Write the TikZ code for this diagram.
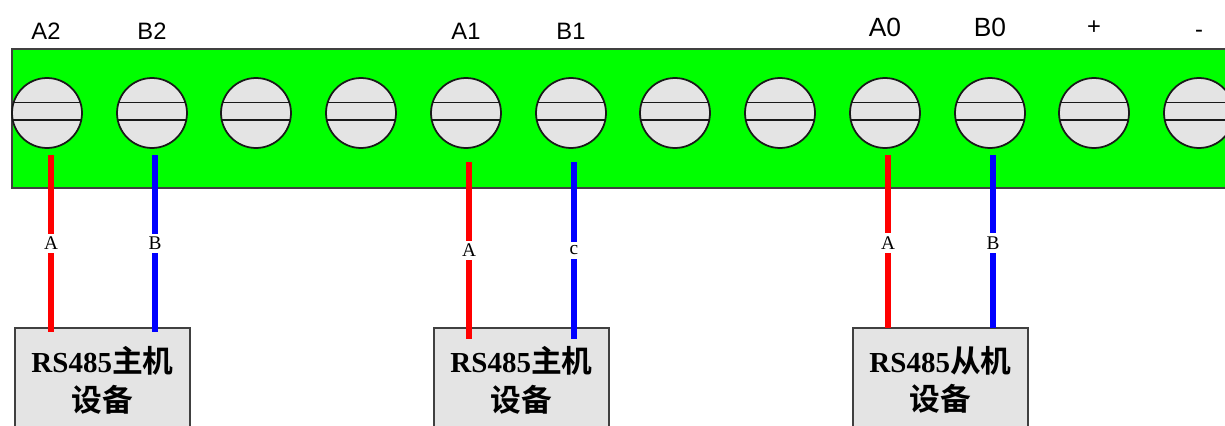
\documentclass[tikz,border=0pt]{standalone}
\usepackage{fontspec}
\setmainfont{Liberation Serif}
\newfontfamily\arialfont{Liberation Sans}
\newfontfamily\cjk[BoldFont={Noto Sans CJK SC Bold}]{Noto Sans CJK SC}
\newcommand{\cjkbig}[1]{{\cjk\bfseries\fontsize{17.5pt}{22pt}\selectfont #1}}
\definecolor{screwgray}{HTML}{E4E4E4}
\definecolor{edgegray}{HTML}{404040}
\tikzset{
  screwnode/.style={circle, draw=black!90, line width=1pt, fill=screwgray, minimum size=1.4cm, inner sep=0pt},
  slotline/.style={draw=black!90, line width=1pt},
  toplabel/.style={font=\arialfont\fontsize{13.5pt}{15pt}\selectfont, text=black},
  biglabel/.style={font=\arialfont\fontsize{15pt}{17pt}\selectfont, text=black},
  devicebox/.style={draw=edgegray, line width=1.1pt, fill=screwgray, minimum width=3.5cm, minimum height=2.08cm, inner sep=0pt, align=center, font=\fontsize{16.5pt}{22pt}\selectfont},
  redwire/.style={draw=red, line width=3.2pt},
  bluewire/.style={draw=blue, line width=3.2pt},
  wirelabel/.style={fill=white, inner xsep=1pt, inner ysep=2pt, text=black, font=\fontsize{11pt}{12pt}\selectfont},
}
\begin{document}
\begin{tikzpicture}[x=0.02cm,y=-0.02cm]
		\useasboundingbox (0,0) rectangle (1225,426);
		\clip (0,0) rectangle (1225,426);
		% terminal strip
		\draw[edgegray, line width=1.1pt, fill=green] (12,49) rectangle (1260,188);
		\foreach \i/\xpos in {1/47,2/152,3/256,4/361,5/466,6/571,7/675,8/780,9/885,10/990,11/1094,12/1199} {
			\node[screwnode] (screw\i) at (\xpos,113) {};
			\draw[slotline] (screw\i.163) -- (screw\i.17);
			\draw[slotline] (screw\i.191.5) -- (screw\i.-11.5);
		}
		% terminal names
		\node[toplabel] (nameA2) at (46,31) {A2};
		\node[toplabel] (nameB2) at (152,31) {B2};
		\node[toplabel] (nameA1) at (466,31) {A1};
		\node[toplabel] (nameB1) at (571,31) {B1};
		\node[biglabel] (nameA0) at (885,27) {A0};
		\node[biglabel] (nameB0) at (990,27) {B0};
		\node[toplabel] (nameplus) at (1094,28) {+};
		\node[toplabel] (nameminus) at (1199,34) {-};
		% devices
		\node[devicebox] (master2) at (102.5,380) {\textbf{RS485}\cjkbig{主机}\\\cjkbig{设备}};
		\node[devicebox] (master1) at (521.5,380) {\textbf{RS485}\cjkbig{主机}\\\cjkbig{设备}};
		\node[devicebox] (slave0) at (940.5,380) {\textbf{RS485}\cjkbig{从机}\\\cjkbig{设备}};
		% wires
		\coordinate (topA2) at (51,155);
		\coordinate (endA2) at (51,332);
		\coordinate (topB2) at (155,155);
		\coordinate (endB2) at (155,332);
		\coordinate (topA1) at (469,162);
		\coordinate (endA1) at (469,339);
		\coordinate (topB1) at (574,162);
		\coordinate (endB1) at (574,339);
		\coordinate (topA0) at (888,155);
		\coordinate (endA0) at (888,328);
		\coordinate (topB0) at (993,155);
		\coordinate (endB0) at (993,328);
		\draw[redwire] (topA2) -- node[wirelabel] {A} (endA2);
		\draw[bluewire] (topB2) -- node[wirelabel] {B} (endB2);
		\draw[redwire] (topA1) -- node[wirelabel] {A} (endA1);
		\draw[bluewire] (topB1) -- node[wirelabel] {c} (endB1);
		\draw[redwire] (topA0) -- node[wirelabel, pos=0.51] {A} (endA0);
		\draw[bluewire] (topB0) -- node[wirelabel, pos=0.51] {B} (endB0);
\end{tikzpicture}
\end{document}
